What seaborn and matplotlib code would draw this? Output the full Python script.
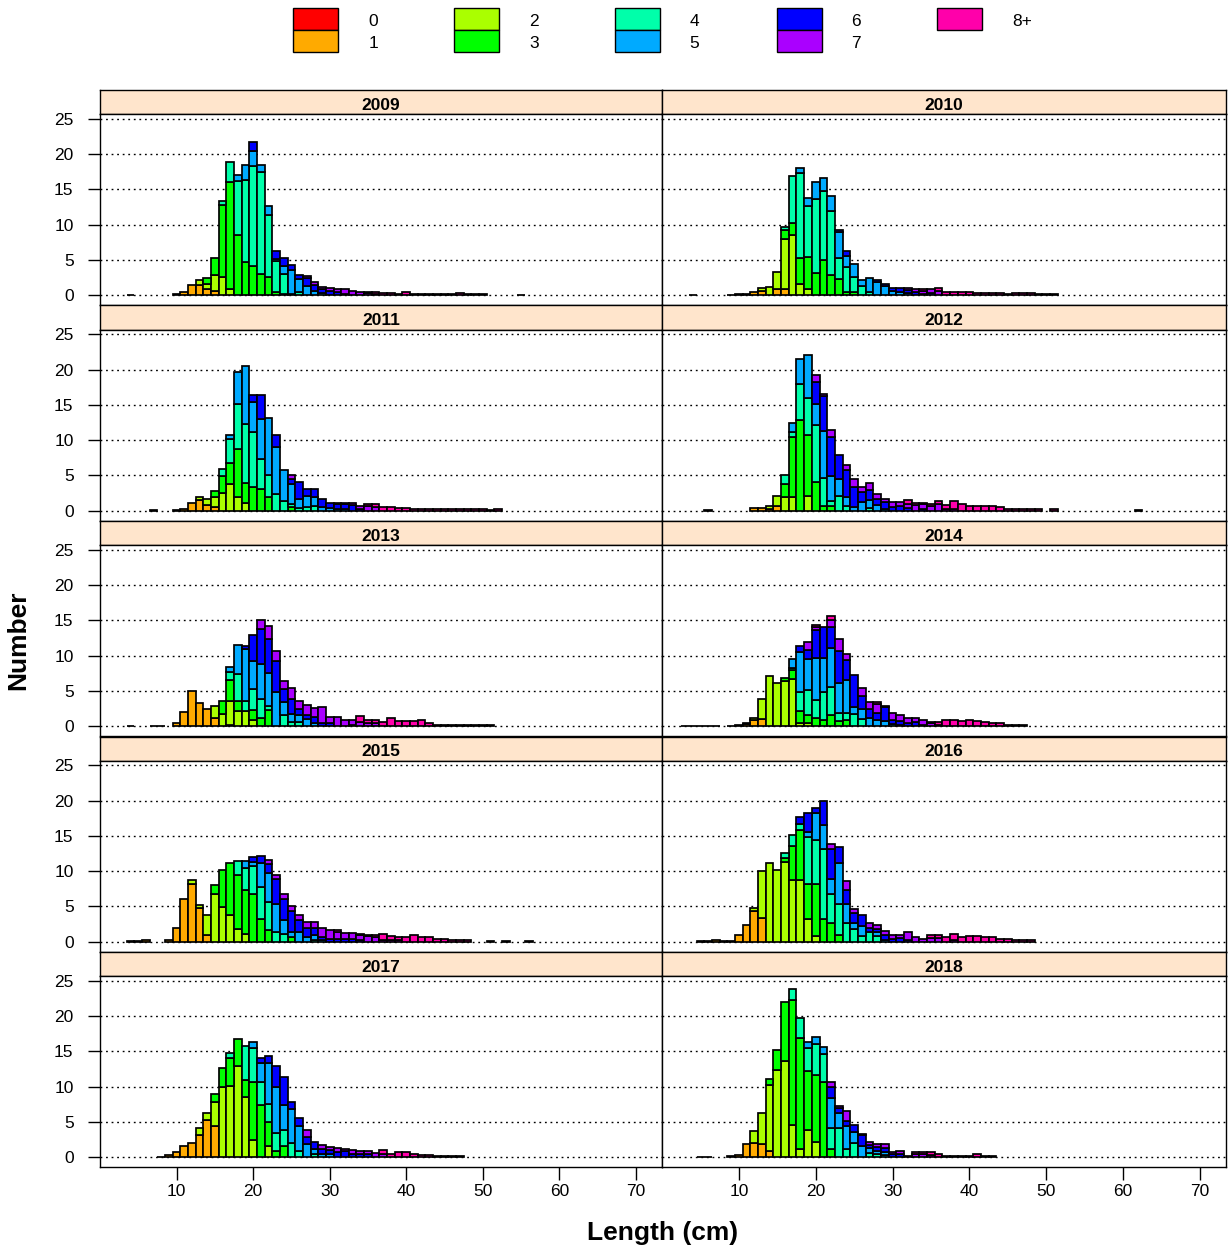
import numpy as np
import pandas as pd
import matplotlib
matplotlib.use("Agg")
import matplotlib.pyplot as plt
from matplotlib.patches import Rectangle
import seaborn as sns

sns.set_theme(style="white")
plt.rcParams["font.family"] = ["Liberation Sans", "DejaVu Sans"]
plt.rcParams.update({
    "text.color": "black", "axes.labelcolor": "black",
    "xtick.color": "black", "ytick.color": "black",
    "xtick.bottom": True, "ytick.left": True,
})

# ---------------- data ----------------
AGES = ["0", "1", "2", "3", "4", "5", "6", "7", "8+"]
AGE_COLORS = ["#FF0000", "#FFAA00", "#AAFF00", "#00FF00", "#00FFAA",
              "#00AAFF", "#0000FF", "#AA00FF", "#FF00AA"]
YEARS = [2009, 2010, 2011, 2012, 2013, 2014, 2015, 2016, 2017, 2018]
Y_TICKS = [0, 5, 10, 15, 20, 25]
X_TICKS = [10, 20, 30, 40, 50, 60, 70]

# (length cm, {age index: number})
d2009 = [
    (4, {1: 0.05}), (10, {1: 0.1}), (11, {1: 0.4}), (12, {1: 1.4}),
    (13, {1: 1.5, 2: 0.6}), (14, {1: 0.8, 2: 0.8, 3: 0.8}),
    (15, {1: 0.6, 2: 2.2, 3: 2.4}), (16, {2: 2.6, 3: 10.2, 4: 0.6}),
    (17, {2: 0.9, 3: 15.1, 4: 2.9}), (18, {3: 8.5, 4: 7.7, 5: 0.8}),
    (19, {3: 4.7, 4: 11.7, 5: 2.0}), (20, {3: 4.2, 4: 14.1, 5: 2.2, 6: 1.2}),
    (21, {3: 3.0, 4: 14.4, 5: 1.0}), (22, {3: 2.6, 4: 8.7, 5: 1.3}),
    (23, {3: 0.4, 4: 4.4, 5: 0.3, 6: 1.1}), (24, {3: 0.1, 4: 2.9, 5: 1.2, 6: 1.0}),
    (25, {4: 0.2, 5: 3.4, 6: 0.7}), (26, {4: 0.4, 5: 1.9, 6: 0.5}),
    (27, {5: 1.3, 6: 1.1, 7: 0.3}), (28, {5: 0.6, 6: 0.8, 7: 0.5}),
    (29, {5: 0.3, 6: 0.6, 7: 0.2}), (30, {6: 0.6, 7: 0.4}),
    (31, {6: 0.4, 7: 0.5}), (32, {6: 0.2, 7: 0.6}), (33, {7: 0.6}),
    (34, {7: 0.5}), (35, {7: 0.3, 8: 0.2}), (36, {7: 0.2, 8: 0.2}),
    (37, {8: 0.3}), (38, {8: 0.3}), (39, {8: 0.2}), (40, {8: 0.4}),
    (41, {8: 0.2}), (42, {8: 0.2}), (43, {8: 0.2}), (44, {8: 0.2}),
    (45, {8: 0.1}), (46, {8: 0.1}), (47, {8: 0.3}), (48, {8: 0.1}),
    (49, {8: 0.1}), (50, {8: 0.1}), (55, {8: 0.05}),
]
d2010 = [
    (4, {1: 0.05}), (9, {1: 0.05}), (10, {1: 0.1}), (11, {1: 0.2}),
    (12, {1: 0.5}), (13, {1: 0.6, 2: 0.4}), (14, {2: 1.2}),
    (15, {1: 0.9, 2: 2.4}), (16, {1: 0.9, 2: 7.0, 3: 1.4, 4: 0.4}),
    (17, {2: 8.5, 3: 1.7, 4: 6.7}), (18, {2: 1.6, 3: 3.6, 4: 12.1, 5: 0.8}),
    (19, {2: 0.9, 3: 4.5, 4: 7.3, 5: 1.1}), (20, {3: 3.1, 4: 10.6, 5: 2.4}),
    (21, {3: 5.0, 4: 9.8, 5: 1.8}), (22, {3: 2.8, 4: 9.1, 5: 2.1}),
    (23, {3: 2.3, 4: 2.9, 5: 3.7, 6: 0.3}), (24, {3: 0.4, 4: 3.6, 5: 1.6, 6: 0.7}),
    (25, {3: 0.4, 4: 2.2, 5: 1.8}), (26, {4: 1.3, 5: 0.9}),
    (27, {4: 0.4, 5: 2.0}), (28, {5: 1.9, 6: 0.2}), (29, {5: 1.3, 6: 0.3}),
    (30, {5: 0.6, 6: 0.4}), (31, {5: 0.5, 6: 0.5}),
    (32, {5: 0.3, 6: 0.4, 7: 0.3}), (33, {6: 0.5, 7: 0.4}),
    (34, {6: 0.2, 7: 0.4, 8: 0.2}), (35, {6: 0.3, 7: 0.5}),
    (36, {7: 0.6, 8: 0.4}), (37, {8: 0.5}), (38, {8: 0.5}), (39, {8: 0.5}),
    (40, {8: 0.4}), (41, {8: 0.3}), (42, {8: 0.3}), (43, {8: 0.3}),
    (44, {8: 0.3}), (45, {8: 0.2}), (46, {8: 0.3}), (47, {8: 0.3}),
    (48, {8: 0.3}), (49, {8: 0.2}), (50, {8: 0.2}), (51, {8: 0.2}),
]
d2011 = [
    (7, {1: 0.1}), (10, {1: 0.1}), (11, {1: 0.2}), (12, {1: 1.1}),
    (13, {1: 1.5, 2: 0.4}), (14, {1: 0.8, 2: 0.9}),
    (15, {1: 0.5, 2: 1.5, 3: 0.8}), (16, {2: 2.5, 3: 2.4, 4: 1.0}),
    (17, {2: 3.8, 3: 3.0, 4: 3.3, 5: 0.6}), (18, {2: 2.0, 3: 6.8, 4: 6.3, 5: 4.5}),
    (19, {2: 1.1, 3: 2.8, 4: 8.4, 5: 8.2}), (20, {3: 3.4, 4: 7.7, 5: 4.3, 6: 1.0}),
    (21, {3: 3.1, 4: 4.2, 5: 5.7, 6: 3.4}), (22, {3: 2.0, 4: 3.1, 5: 8.0}),
    (23, {4: 2.3, 5: 6.7, 6: 1.7}), (24, {4: 1.3, 5: 4.5}),
    (25, {3: 0.5, 4: 0.4, 5: 2.9, 6: 0.7, 7: 0.5}), (26, {4: 0.4, 5: 1.2, 6: 2.4}),
    (27, {4: 0.5, 5: 1.6, 6: 0.9}), (28, {4: 0.6, 5: 1.4, 6: 1.0}),
    (29, {5: 0.5, 6: 1.2}), (30, {5: 0.4, 6: 0.7}),
    (31, {5: 0.3, 6: 0.6, 7: 0.2}), (32, {5: 0.3, 6: 0.6, 7: 0.2}),
    (33, {6: 0.8, 7: 0.3}), (34, {6: 0.3, 7: 0.3}), (35, {7: 0.6, 8: 0.3}),
    (36, {7: 0.5, 8: 0.4}), (37, {8: 0.5}), (38, {8: 0.5}), (39, {8: 0.4}),
    (40, {8: 0.4}), (41, {8: 0.3}), (42, {8: 0.3}), (43, {8: 0.2}),
    (44, {8: 0.2}), (45, {8: 0.2}), (46, {8: 0.2}), (47, {8: 0.2}),
    (48, {8: 0.2}), (49, {8: 0.2}), (50, {8: 0.2}), (51, {8: 0.1}), (52, {8: 0.2}),
]
d2012 = [
    (6, {1: 0.1}), (12, {1: 0.4}), (13, {1: 0.4}), (14, {1: 0.3, 2: 0.4}),
    (15, {1: 0.6, 2: 1.5}), (16, {2: 1.9, 3: 1.9, 4: 1.2}),
    (17, {2: 1.9, 3: 8.5, 4: 0.8, 5: 1.2}), (18, {3: 12.8, 4: 5.2, 5: 3.5}),
    (19, {2: 2.1, 3: 8.6, 4: 5.3, 5: 6.1}),
    (20, {3: 4.1, 4: 8.0, 5: 3.1, 6: 3.1, 7: 1.0}),
    (21, {3: 0.7, 4: 4.0, 5: 6.6, 6: 4.9, 7: 0.4}),
    (22, {3: 0.6, 4: 0.8, 5: 3.5, 6: 5.5, 7: 1.0}),
    (23, {4: 2.1, 5: 2.4, 6: 3.4}), (24, {4: 0.7, 5: 1.3, 6: 3.8, 7: 0.7}),
    (25, {5: 0.5, 6: 2.9, 7: 1.1}), (26, {5: 1.2, 6: 1.4, 7: 0.7}),
    (27, {4: 0.4, 5: 1.1, 6: 1.4, 7: 1.0}), (28, {5: 0.8, 6: 0.9, 7: 0.7}),
    (29, {5: 0.3, 6: 0.9, 7: 0.5}), (30, {6: 0.5, 7: 0.7}),
    (31, {6: 0.6, 7: 0.6}), (32, {6: 0.4, 7: 0.6, 8: 0.5}),
    (33, {7: 0.8, 8: 0.3}), (34, {6: 0.2, 7: 0.7, 8: 0.2}),
    (35, {7: 0.6, 8: 0.3}), (36, {7: 0.9, 8: 0.4}), (37, {7: 0.3, 8: 0.5}),
    (38, {7: 0.3, 8: 1.0}), (39, {8: 0.9}), (40, {8: 0.7}), (41, {8: 0.7}),
    (42, {8: 0.7}), (43, {8: 0.7}), (44, {8: 0.5}), (45, {8: 0.2}),
    (46, {8: 0.2}), (47, {8: 0.2}), (48, {8: 0.2}), (49, {8: 0.2}),
    (51, {8: 0.2}), (62, {8: 0.05}),
]
d2013 = [
    (4, {1: 0.05}), (7, {1: 0.05}), (8, {1: 0.05}), (10, {1: 0.5}),
    (11, {1: 2.0}), (12, {1: 5.0}), (13, {1: 3.3}), (14, {1: 2.4}),
    (15, {1: 1.1, 2: 1.7}), (16, {2: 1.7, 3: 1.8}),
    (17, {1: 0.2, 2: 3.3, 3: 3.1, 4: 1.1, 5: 0.7}),
    (18, {2: 2.1, 3: 1.4, 4: 3.9, 5: 4.1}), (19, {2: 2.1, 4: 1.4, 5: 7.4, 6: 0.5}),
    (20, {2: 0.9, 3: 1.4, 4: 3.0, 5: 3.9, 6: 3.7}),
    (21, {3: 1.1, 4: 2.7, 5: 5.0, 6: 5.0, 7: 1.2}),
    (22, {3: 2.3, 4: 0.6, 5: 4.7, 6: 4.8, 7: 1.8}),
    (23, {5: 4.9, 6: 4.4, 7: 1.4}), (24, {4: 1.6, 5: 1.8, 6: 1.8, 7: 1.2}),
    (25, {4: 0.6, 5: 1.1, 6: 2.1, 7: 1.6}), (26, {4: 0.6, 5: 1.0, 6: 0.9, 7: 1.0}),
    (27, {5: 1.0, 6: 0.6, 7: 1.4}), (28, {5: 0.5, 6: 0.8, 7: 1.3}),
    (29, {6: 0.5, 7: 2.2}), (30, {6: 0.4, 7: 0.9}), (31, {7: 1.3}),
    (32, {7: 0.8}), (33, {6: 0.2, 7: 0.7}), (34, {7: 0.6, 8: 0.9}),
    (35, {7: 0.4, 8: 0.5}), (36, {7: 0.4, 8: 0.5}), (37, {8: 0.6}),
    (38, {8: 1.1}), (39, {8: 0.7}), (40, {8: 0.7}), (41, {8: 0.7}),
    (42, {8: 0.9}), (43, {8: 0.4}), (44, {8: 0.2}), (45, {8: 0.2}),
    (46, {8: 0.2}), (47, {8: 0.2}), (48, {8: 0.1}), (49, {8: 0.1}),
    (50, {8: 0.1}), (51, {8: 0.1}),
]
d2014 = [
    (3, {1: 0.05}), (4, {1: 0.05}), (5, {1: 0.05}), (6, {1: 0.05}),
    (7, {1: 0.05}), (9, {1: 0.05}), (10, {1: 0.2}), (11, {1: 0.3, 2: 0.2}),
    (12, {1: 0.9, 2: 0.3}), (13, {1: 1.0, 2: 2.8}), (14, {2: 7.1}),
    (15, {2: 6.1}), (16, {2: 6.4, 3: 0.5}), (17, {2: 6.7, 3: 1.3, 4: 0.3, 5: 1.2}),
    (18, {2: 0.5, 3: 1.7, 4: 2.7, 5: 5.6, 6: 0.8}),
    (19, {2: 0.5, 3: 1.1, 4: 3.5, 5: 4.4, 6: 1.3, 7: 1.2}),
    (20, {3: 1.2, 4: 2.5, 5: 6.0, 6: 4.0, 7: 0.4, 8: 0.2}),
    (21, {3: 0.8, 4: 4.1, 5: 4.7, 6: 4.4}),
    (22, {3: 1.6, 4: 4.0, 5: 5.5, 6: 2.9, 7: 1.1, 8: 0.5}),
    (23, {3: 0.7, 4: 1.2, 5: 4.2, 6: 4.6, 7: 1.6}),
    (24, {3: 0.8, 4: 1.0, 5: 4.7, 6: 2.9, 7: 0.9}),
    (25, {4: 1.7, 5: 1.0, 6: 4.5}), (26, {4: 1.0, 5: 1.4, 6: 1.9, 7: 1.1}),
    (27, {5: 1.2, 6: 1.2, 7: 1.0}), (28, {5: 0.8, 6: 1.0, 7: 1.4, 8: 0.2}),
    (29, {5: 0.7, 6: 2.0, 7: 0.2}), (30, {5: 0.3, 6: 0.5, 7: 1.1}),
    (31, {5: 0.2, 6: 0.5, 7: 0.9}), (32, {6: 0.5, 7: 0.7}),
    (33, {6: 0.6, 7: 0.5}), (34, {6: 0.2, 7: 0.6}), (35, {7: 0.4, 8: 0.2}),
    (36, {7: 0.2, 8: 0.4}), (37, {8: 0.8}), (38, {8: 0.9}), (39, {8: 0.7}),
    (40, {8: 0.8}), (41, {8: 0.7}), (42, {8: 0.6}), (43, {8: 0.5}),
    (44, {8: 0.45}), (45, {8: 0.2}), (46, {8: 0.2}), (47, {8: 0.2}),
]
d2015 = [
    (4, {1: 0.05}), (5, {1: 0.05}), (6, {1: 0.2}), (9, {1: 0.2}),
    (10, {1: 2.0}), (11, {1: 6.1}), (12, {1: 8.2, 2: 0.5}), (13, {1: 4.8, 2: 0.4}),
    (14, {1: 0.9, 2: 2.9}), (15, {2: 6.7, 3: 1.4}), (16, {2: 4.9, 3: 5.3}),
    (17, {2: 3.8, 3: 7.4}), (18, {2: 1.8, 3: 7.7, 4: 1.9}),
    (19, {2: 1.1, 3: 6.2, 4: 3.1, 5: 1.1}), (20, {3: 6.7, 4: 4.0, 5: 0.6, 6: 0.7}),
    (21, {3: 3.2, 4: 4.6, 5: 3.3, 6: 1.1}),
    (22, {3: 1.7, 4: 3.9, 5: 4.2, 6: 1.2, 7: 0.6}),
    (23, {4: 1.4, 5: 3.9, 6: 3.6, 7: 0.5}), (24, {4: 1.1, 5: 1.9, 6: 3.1, 7: 0.7}),
    (25, {3: 0.6, 5: 0.7, 6: 3.0, 7: 0.7}), (26, {5: 1.3, 6: 1.8, 7: 0.7}),
    (27, {5: 0.6, 6: 1.4, 7: 0.8}), (28, {4: 0.3, 5: 0.6, 6: 1.0, 7: 0.9}),
    (29, {5: 0.3, 6: 0.3, 7: 1.4}), (30, {6: 0.4, 7: 1.2}),
    (31, {6: 0.4, 7: 0.9, 8: 0.3}), (32, {6: 0.4, 7: 0.8}),
    (33, {6: 0.4, 7: 0.8}), (34, {6: 0.3, 7: 0.6, 8: 0.2}),
    (35, {7: 0.8, 8: 0.2}), (36, {7: 0.6, 8: 0.3}), (37, {7: 0.3, 8: 0.8}),
    (38, {7: 0.3, 8: 0.5}), (39, {7: 0.3, 8: 0.3}), (40, {8: 0.7}),
    (41, {8: 1.0}), (42, {8: 0.6}), (43, {8: 0.6}), (44, {8: 0.4}),
    (45, {8: 0.4}), (46, {8: 0.2}), (47, {8: 0.2}), (48, {8: 0.2}),
    (51, {8: 0.05}), (53, {8: 0.05}), (56, {8: 0.05}),
]
d2016 = [
    (5, {1: 0.05}), (6, {1: 0.05}), (7, {1: 0.2}), (8, {1: 0.05}),
    (9, {1: 0.05}), (10, {1: 0.9}), (11, {1: 2.3}), (12, {1: 4.4, 2: 0.4}),
    (13, {1: 3.3, 2: 6.7}), (14, {2: 11.1}), (15, {2: 10.2}),
    (16, {2: 11.3, 3: 0.6, 4: 0.7}), (17, {2: 8.8, 3: 4.7, 4: 1.7}),
    (18, {2: 8.8, 3: 7.0, 4: 0.9, 6: 1.0}),
    (19, {2: 3.2, 3: 5.0, 4: 6.6, 5: 0.7, 6: 2.8}),
    (20, {2: 0.8, 3: 7.4, 4: 6.2, 5: 3.8, 6: 0.8}),
    (21, {3: 3.2, 4: 10.0, 5: 3.3, 6: 3.5}),
    (22, {3: 2.6, 4: 4.2, 5: 2.1, 6: 4.3, 7: 0.7}),
    (23, {3: 1.0, 4: 4.3, 5: 5.8, 6: 2.3}), (24, {4: 2.6, 5: 2.8, 6: 1.9, 7: 1.3}),
    (25, {4: 1.8, 5: 0.9, 6: 1.4, 7: 0.5}), (26, {4: 0.8, 5: 1.4, 6: 1.6}),
    (27, {4: 1.3, 6: 0.7, 7: 0.6}), (28, {4: 0.8, 5: 0.5, 6: 0.5, 7: 0.6}),
    (29, {5: 0.3, 6: 0.6, 7: 0.6}), (30, {6: 0.4, 7: 0.6}),
    (31, {6: 0.5, 7: 0.4}), (32, {6: 0.3, 7: 1.0}), (33, {7: 0.7}),
    (34, {7: 0.4}), (35, {7: 0.5, 8: 0.4}), (36, {7: 0.5, 8: 0.4}),
    (37, {8: 0.7}), (38, {7: 0.3, 8: 0.8}), (39, {8: 0.7}), (40, {8: 0.8}),
    (41, {8: 0.8}), (42, {8: 0.6}), (43, {8: 0.6}), (44, {8: 0.4}),
    (45, {8: 0.4}), (46, {8: 0.2}), (47, {8: 0.2}), (48, {8: 0.2}),
]
d2017 = [
    (8, {1: 0.05}), (9, {1: 0.25}), (10, {1: 0.7}), (11, {1: 1.6}),
    (12, {1: 2.0}), (13, {1: 3.2, 2: 1.0}), (14, {1: 5.3, 2: 1.0}),
    (15, {1: 4.4, 2: 3.4, 3: 1.2}), (16, {2: 9.9, 3: 2.7}),
    (17, {2: 10.1, 3: 3.9, 4: 0.8}), (18, {2: 12.9, 3: 3.8}),
    (19, {2: 8.5, 3: 2.5, 4: 4.7}), (20, {2: 2.4, 3: 8.3, 4: 4.8, 5: 0.9}),
    (21, {3: 7.4, 4: 3.2, 5: 2.8, 6: 0.7}),
    (22, {2: 1.6, 3: 3.4, 4: 2.6, 5: 5.7, 6: 1.0}),
    (23, {3: 0.9, 4: 2.5, 5: 6.5, 6: 3.0}), (24, {3: 1.6, 4: 2.3, 5: 3.5, 6: 4.0}),
    (25, {4: 2.0, 5: 4.8, 6: 1.0}), (26, {4: 0.9, 5: 3.5, 6: 1.1}),
    (27, {5: 1.9, 6: 1.0, 7: 0.9}), (28, {4: 0.5, 5: 0.7, 6: 0.9}),
    (29, {5: 0.5, 6: 0.6, 7: 0.6}), (30, {5: 0.5, 6: 0.5, 7: 0.4}),
    (31, {6: 0.7, 7: 0.6}), (32, {6: 0.9, 7: 0.3}), (33, {6: 0.4, 7: 0.55}),
    (34, {6: 0.5, 7: 0.4}), (35, {6: 0.4, 7: 0.5}), (36, {7: 0.6}),
    (37, {7: 0.4, 8: 0.55}), (38, {8: 0.4}), (39, {8: 0.7}), (40, {8: 0.7}),
    (41, {8: 0.4}), (42, {8: 0.3}), (43, {8: 0.3}), (44, {8: 0.2}),
    (45, {8: 0.15}), (46, {8: 0.15}), (47, {8: 0.15}),
]
d2018 = [
    (5, {1: 0.05}), (6, {1: 0.05}), (9, {1: 0.15}), (10, {1: 0.25}),
    (11, {1: 1.9}), (12, {1: 2.0, 2: 1.7}), (13, {1: 1.8, 2: 4.4}),
    (14, {1: 0.9, 2: 9.3, 3: 0.9}), (15, {2: 12.3, 3: 2.9}),
    (16, {2: 13.7, 3: 8.3}), (17, {2: 4.5, 3: 17.8, 4: 1.6}),
    (18, {2: 1.1, 3: 15.8, 4: 2.8}), (19, {2: 3.9, 3: 8.3, 4: 3.3, 5: 0.9}),
    (20, {2: 2.1, 3: 9.5, 4: 4.5, 5: 1.0}), (21, {3: 10.7, 4: 4.0, 5: 0.9}),
    (22, {3: 1.2, 4: 2.9, 5: 4.3, 6: 1.6, 7: 0.6}),
    (23, {4: 4.1, 5: 2.1, 6: 0.8, 7: 0.3}), (24, {4: 1.1, 5: 3.3, 6: 0.7, 7: 1.4}),
    (25, {4: 2.0, 5: 1.5, 6: 1.1}), (26, {5: 1.6, 6: 1.5, 7: 0.2}),
    (27, {4: 0.6, 5: 0.7, 6: 0.4, 7: 0.4}), (28, {4: 0.5, 5: 0.4, 6: 0.5, 7: 0.5}),
    (29, {4: 0.3, 5: 0.4, 6: 0.6, 7: 0.5}), (30, {6: 0.4, 7: 0.3}),
    (31, {6: 0.5, 7: 0.4}), (32, {8: 0.2}), (33, {7: 0.4, 8: 0.3}),
    (34, {7: 0.4, 8: 0.3}), (35, {7: 0.3, 8: 0.4}), (36, {8: 0.5}),
    (37, {8: 0.2}), (38, {8: 0.2}), (39, {8: 0.2}), (40, {8: 0.2}),
    (41, {8: 0.5}), (42, {8: 0.2}), (43, {8: 0.2}),
]
TABLES = dict(zip(YEARS, [d2009, d2010, d2011, d2012, d2013,
                          d2014, d2015, d2016, d2017, d2018]))

rows = []
for yr, table in TABLES.items():
    for length, counts in table:
        for a, n in counts.items():
            rows.append((yr, length, AGES[a], n))
df = pd.DataFrame(rows, columns=["year", "length", "age", "n"])
palette = dict(zip(AGES, AGE_COLORS))

# ---------------- layout ----------------
W, H = 1232, 1258
fig = plt.figure(figsize=(W / 100, H / 100), dpi=100)

COL_X = [(100, 662), (662, 1226)]
ROW_TOP0, PITCH, STRIP_H, PANEL_H = 90, 215.5, 24, 191
STRIP_COLOR = "#FFE5CC"
TICK_FS = 12.5

for i, yr in enumerate(YEARS):
    r, c = divmod(i, 2)
    x0, x1 = COL_X[c]
    top = ROW_TOP0 + r * PITCH
    # strip
    sax = fig.add_axes([x0 / W, 1 - (top + STRIP_H) / H, (x1 - x0) / W, STRIP_H / H])
    sax.set_facecolor(STRIP_COLOR)
    sax.set_xticks([]); sax.set_yticks([])
    for s in sax.spines.values():
        s.set_color("black"); s.set_linewidth(1.0)
    sax.text(0.5, 0.36, str(yr), ha="center", va="center", fontsize=12.5,
             fontweight="bold", color="black", transform=sax.transAxes)

    ax = fig.add_axes([x0 / W, 1 - (top + STRIP_H + PANEL_H) / H,
                       (x1 - x0) / W, PANEL_H / H])
    ax.set_facecolor("white")
    for yv in Y_TICKS:
        ax.axhline(yv, color="black", lw=1.0, ls=(0, (1.3, 2.7)), zorder=0)
    sub = df[df["year"] == yr]
    sns.histplot(data=sub, x="length", weights="n", hue="age",
                 hue_order=AGES[::-1], palette=palette, multiple="stack",
                 discrete=True, alpha=1, edgecolor="black", linewidth=1.25,
                 legend=False, ax=ax, zorder=2)
    for p in list(ax.patches):
        if p.get_height() <= 0:
            p.remove()
    ax.set_xlim(0, 73.4)
    ax.set_ylim(-1.4, 25.7)
    ax.set_xlabel(""); ax.set_ylabel("")
    for s in ax.spines.values():
        s.set_color("black"); s.set_linewidth(1.0); s.set_visible(True)
    ax.set_yticks(Y_TICKS)
    ax.set_xticks(X_TICKS)
    ax.tick_params(axis="both", which="major", direction="out", length=9,
                   width=1, color="black", labelsize=TICK_FS,
                   labelcolor="black")
    ax.tick_params(axis="y", left=(c == 0), labelleft=(c == 0),
                   right=False, labelright=False, pad=10)
    ax.tick_params(axis="x", bottom=(r == 4), labelbottom=(r == 4),
                   top=False, labeltop=False, pad=3)
    ax.grid(False)

# ---------------- legend ----------------
lax = fig.add_axes([0, 1 - 70 / H, 1, 70 / H])
lax.set_xlim(0, W); lax.set_ylim(70, 0)
lax.axis("off")
LEG_COLS = [(293, 373), (454, 534), (615, 694), (777, 856), (937, 1022)]
for k, age in enumerate(AGES):
    col, rrow = divmod(k, 2)
    bx, tx = LEG_COLS[col]
    by = 8 + rrow * 22
    lax.add_patch(Rectangle((bx, by), 45, 22, facecolor=AGE_COLORS[k],
                            edgecolor="black", lw=1.0))
    lax.text(tx, by + 13.5, age, ha="center", va="center", fontsize=TICK_FS,
             color="black")

# ---------------- axis titles ----------------
fig.text(18 / W, 1 - 640 / H, "Number", rotation=90, ha="center", va="center",
         fontsize=19, fontweight="bold", color="black")
fig.text(663 / W, 1 - 1233 / H, "Length (cm)", ha="center", va="center",
         fontsize=19, fontweight="bold", color="black")

fig.savefig("out.png", dpi=100)
